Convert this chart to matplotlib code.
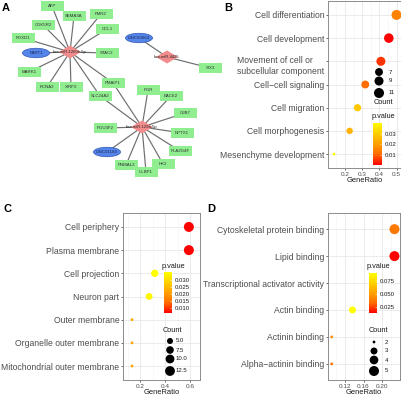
import numpy as np
import matplotlib
matplotlib.use('Agg')
import matplotlib.pyplot as plt
from matplotlib.colors import LinearSegmentedColormap
from matplotlib.patches import Rectangle, Ellipse, Polygon
from matplotlib.transforms import ScaledTranslation

plt.rcParams['font.family'] = ['Liberation Sans', 'DejaVu Sans']

W, H = 401, 396

# ---- panel A: network ----
mirnas = ['hsa-miR-1260b-5p', 'hsa-miR-129a-5p', 'hsa-miR-4425']
mirna_xy = [(70, 52), (142, 127), (167, 57)]

genes = ['AFP', 'SEMA3A', 'FMN2', 'CDK5R2', 'CCL1', 'FOXD1', 'STAC2', 'MARK1',
         'KCNA2', 'XIRP2', 'PMAIP1', 'SLC24A2', 'PGR', 'BACE2', 'GJB7', 'POU3F2',
         'NPTX1', 'PLA2G4F', 'PNMAL2', 'HK2', 'ULBP1', 'SIX3']
gene_xy = [(52, 6), (74, 16), (101, 14), (43, 25), (107, 29), (23, 38), (107, 53),
           (29, 72), (47, 87), (71, 87), (113, 83), (100, 96), (148, 90), (171, 96),
           (185, 113), (105, 128), (182, 133), (180, 151), (126, 165), (163, 164),
           (146, 172), (210, 68)]

lncrnas = ['PART1', 'LINC01184', 'LINC00664']
lnc_xy = [(36, 53), (107, 152), (139, 38)]

edges = [(0, 'AFP'), (0, 'SEMA3A'), (0, 'FMN2'), (0, 'CDK5R2'), (0, 'CCL1'), (0, 'FOXD1'),
         (0, 'PART1'), (0, 'STAC2'), (0, 'MARK1'), (0, 'KCNA2'), (0, 'XIRP2'),
         (0, 'PMAIP1'), (0, 'SLC24A2'),
         (1, 'PMAIP1'), (1, 'SLC24A2'), (1, 'PGR'), (1, 'BACE2'), (1, 'GJB7'),
         (1, 'POU3F2'), (1, 'NPTX1'), (1, 'LINC01184'), (1, 'PLA2G4F'), (1, 'PNMAL2'),
         (1, 'HK2'), (1, 'ULBP1'),
         (2, 'LINC00664'), (2, 'SIX3')]

# ---- panel B: GO biological process ----
b_terms = ['Cell differentiation', 'Cell development', 'Movement of cell or\nsubcellular component',
           'Cell\u2212cell signaling', 'Cell migration', 'Cell morphogenesis', 'Mesenchyme development']
b_ratio = [0.500, 0.455, 0.409, 0.318, 0.273, 0.227, 0.136]
b_count = [11, 10, 9, 7, 6, 5, 3]
b_pval = [0.0144, 0.0006, 0.0053, 0.0105, 0.028, 0.024, 0.040]

# ---- panel C: GO cellular component ----
c_terms = ['Cell periphery', 'Plasma membrane', 'Cell projection', 'Neuron part',
           'Outer membrane', 'Organelle outer membrane', 'Mitochondrial outer membrane']
c_ratio = [0.591, 0.591, 0.318, 0.273, 0.136, 0.136, 0.136]
c_count = [13, 13, 7, 6, 3, 3, 3]
c_pval = [0.0064, 0.0065, 0.0357, 0.034, 0.022, 0.022, 0.022]

# ---- panel D: GO molecular function ----
d_terms = ['Cytoskeletal protein binding', 'Lipid binding', 'Transcriptional activator activity',
           'Actin binding', 'Actinin binding', 'Alpha\u2212actinin binding']
d_ratio = [0.227, 0.227, np.nan, 0.136, 0.091, 0.091]
d_count = [5, 5, np.nan, 3, 2, 2]
d_pval = [0.037, 0.0135, np.nan, 0.0904, 0.045, 0.035]

cmap = LinearSegmentedColormap.from_list('ry', ['#FF0000', '#FF6C00', '#FFA100', '#FFD100', '#FFFF00'])

fig = plt.figure(figsize=(W / 100, H / 100), dpi=100)


def px_axes(left, top, right, bottom, **kw):
    return fig.add_axes([left / W, 1 - bottom / H, (right - left) / W, (bottom - top) / H], **kw)


def size_px(counts, lo, hi):
    t = (np.asarray(counts, float) - lo) / (hi - lo)
    return 2.8 + 7.2 * np.sqrt(np.clip(t, 0, 1))


# network
axA = px_axes(0, 0, W, H, zorder=0)
axA.set_xlim(0, W)
axA.set_ylim(H, 0)
axA.axis('off')

pos = dict(zip(genes, gene_xy))
pos.update(zip(lncrnas, lnc_xy))
for m, target in edges:
    x0, y0 = mirna_xy[m]
    x1, y1 = pos[target]
    axA.plot([x0, x1], [y0, y1], color='#6E6E6E', lw=0.85, zorder=1)

for g, (x, y) in zip(genes, gene_xy):
    axA.add_patch(Rectangle((x - 11.5, y - 5), 23, 10, facecolor='#90EE90', edgecolor='none', zorder=2))
    axA.text(x, y, g, fontsize=3.2, ha='center', va='center', color='#333333', zorder=3)
for l, (x, y) in zip(lncrnas, lnc_xy):
    axA.add_patch(Ellipse((x, y), 27, 9.5, facecolor='#5585E8', edgecolor='#2F55B5', lw=0.5, zorder=2))
    axA.text(x, y, l, fontsize=3.2, ha='center', va='center', color='#1A2A60', zorder=3)
for m, (x, y) in zip(mirnas, mirna_xy):
    axA.add_patch(Polygon([(x - 11, y), (x, y - 6.5), (x + 11, y), (x, y + 6.5)],
                          facecolor='#F28C8C', edgecolor='none', zorder=2))
    axA.text(x, y, m, fontsize=3.0, ha='center', va='center', color='#222222', zorder=3)

for lab, x, y in [('A', 2, 3), ('B', 224, 3), ('C', 3, 204), ('D', 207, 204)]:
    axA.text(x, y, lab, fontsize=8, fontweight='bold', ha='left', va='top')


def dotplot(ax, terms, ratio, count, pval, xlim, xticks, xlabels, cmin, cmax):
    n = len(terms)
    y = np.arange(n)
    ok = ~np.isnan(np.asarray(ratio, float))
    d = size_px(np.asarray(count, float)[ok], cmin, cmax)
    pv = np.asarray(pval, float)
    ax.scatter(np.asarray(ratio)[ok], y[ok], s=(d * 0.72) ** 2, c=pv[ok], cmap=cmap,
               vmin=np.nanmin(pv), vmax=np.nanmax(pv), edgecolors='none', zorder=3)
    ax.set_xlim(*xlim)
    ax.set_ylim(n - 0.4, -0.6)
    ax.set_yticks(y)
    ax.set_yticklabels(terms, fontsize=6.2, color='#4D4D4D')
    ax.set_xticks(xticks)
    ax.set_xticklabels(xlabels, fontsize=4.6, color='#4D4D4D')
    mids = [(a + b) / 2 for a, b in zip(xticks[:-1], xticks[1:])]
    step = xticks[1] - xticks[0]
    mids = [xticks[0] - step / 2] + mids + [xticks[-1] + step / 2]
    for mx in mids:
        ax.axvline(mx, color='#F4F4F4', lw=0.4, zorder=0)
    for mx in xticks:
        ax.axvline(mx, color='#E8E8E8', lw=0.6, zorder=0)
    for my in y:
        ax.axhline(my, color='#E8E8E8', lw=0.6, zorder=0)
    ax.tick_params(length=1.6, width=0.5, color='#333333', pad=1.0)
    for s in ax.spines.values():
        s.set_color('#8C8C8C')
        s.set_linewidth(0.7)
    ax.set_xlabel('GeneRatio', fontsize=5.4, color='#1A1A1A', labelpad=0.3)


axB = px_axes(328, 1, 401, 168, zorder=1)
dotplot(axB, b_terms, b_ratio, b_count, b_pval, (0.101, 0.526), [0.2, 0.3, 0.4, 0.5],
        ['0.2', '0.3', '0.4', '0.5'], 3, 11)
lab = axB.get_yticklabels()[2]
lab.set_va('top')
lab.set_multialignment('left')
lab.set_transform(lab.get_transform() + ScaledTranslation(0, 0.05, fig.dpi_scale_trans))

axC = px_axes(123, 213, 200, 380, zorder=1)
dotplot(axC, c_terms, c_ratio, c_count, c_pval, (0.064, 0.68), [0.2, 0.4, 0.6],
        ['0.2', '0.4', '0.6'], 3, 13)

axD = px_axes(328, 213, 400, 380, zorder=1)
dotplot(axD, d_terms, d_ratio, d_count, d_pval, (0.083, 0.239), [0.12, 0.16, 0.20],
        ['0.12', '0.16', '0.20'], 2, 5)

# legends
lg = px_axes(0, 0, W, H, zorder=5)
lg.set_xlim(0, W)
lg.set_ylim(H, 0)
lg.axis('off')


def count_legend(x_dot, x_lab, ys, values, labels, cmin, cmax, title_xy):
    d = size_px(values, cmin, cmax)
    lg.scatter([x_dot] * len(ys), ys, s=(d * 0.72) ** 2, color='black', edgecolors='none')
    for yy, t in zip(ys, labels):
        lg.text(x_lab, yy, t, fontsize=4.3, color='#1A1A1A', ha='left', va='center')
    lg.text(title_xy[0], title_xy[1], 'Count', fontsize=5.3, color='#1A1A1A', ha='center', va='center')


count_legend(379, 389, [72, 81, 93], [7, 9, 11], ['7', '9', '11'], 3, 11, (383, 102))
count_legend(170, 176, [341, 350, 359, 371], [5, 7.5, 10, 12.5], ['5.0', '7.5', '10.0', '12.5'], 3, 13, (172, 331))
count_legend(374, 385, [342, 351, 360, 371], [2, 3, 4, 5], ['2', '3', '4', '5'], 2, 5, (378, 331))


def colorbar(left, top, right, bottom, pval, ticks, labels, title_xy):
    lo, hi = np.nanmin(pval), np.nanmax(pval)
    cax = px_axes(left, top, right, bottom, zorder=6)
    cax.imshow(np.linspace(lo, hi, 200)[:, None], aspect='auto', cmap=cmap, origin='lower',
               extent=[0, 1, lo, hi])
    cax.set_xticks([])
    cax.yaxis.tick_right()
    cax.set_yticks(ticks)
    cax.set_yticklabels(labels, fontsize=4.3, color='#1A1A1A')
    cax.tick_params(axis='y', direction='in', length=1.5, width=0.4, color='white', pad=2)
    for s in cax.spines.values():
        s.set_visible(False)
    lg.text(title_xy[0], title_xy[1], 'p.value', fontsize=5.3, color='#1A1A1A', ha='center', va='center')


colorbar(373, 123, 382, 165, b_pval, [0.01, 0.02, 0.03], ['0.01', '0.02', '0.03'], (383, 117))
colorbar(164, 272, 172, 313, c_pval, [0.010, 0.015, 0.020, 0.025, 0.030],
         ['0.010', '0.015', '0.020', '0.025', '0.030'], (173, 266))
colorbar(369, 273, 377, 313, d_pval, [0.025, 0.050, 0.075], ['0.025', '0.050', '0.075'], (378, 266))

fig.savefig('out.png', dpi=100)
